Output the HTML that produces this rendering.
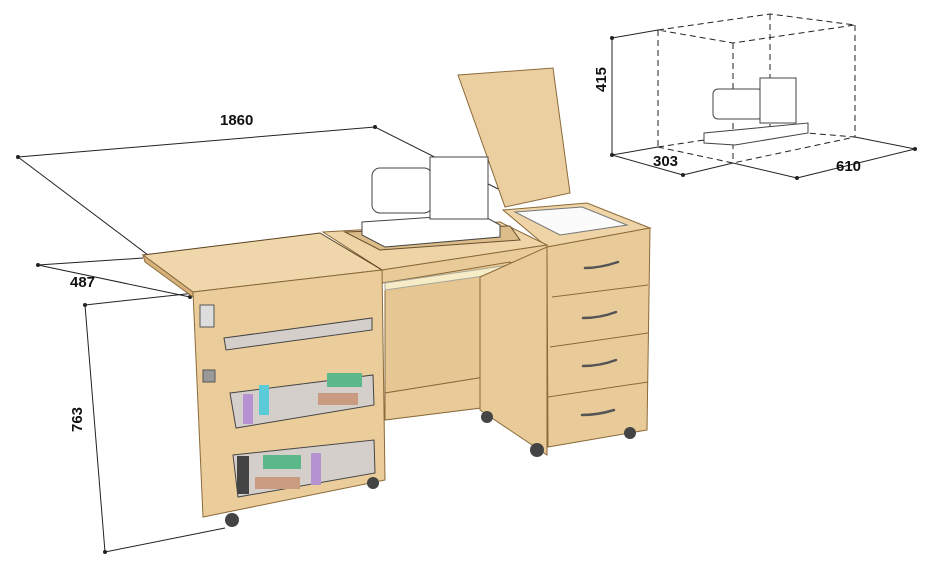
<!DOCTYPE html>
<html><head><style>
html,body{margin:0;padding:0;background:#fff;}
svg{display:block;}
text{font-family:"Liberation Sans",sans-serif;font-weight:bold;font-size:15px;fill:#111;}
</style></head><body>
<svg width="934" height="582" viewBox="0 0 934 582" xmlns="http://www.w3.org/2000/svg">
<g stroke="#222" stroke-width="1" fill="none">
<line x1="18" y1="157" x2="375" y2="127"/>
<line x1="18" y1="157" x2="148" y2="255"/>
<line x1="375" y1="127" x2="520" y2="200"/>
<line x1="38" y1="265" x2="190" y2="297"/>
<line x1="38" y1="265" x2="143" y2="258"/>
<line x1="85" y1="305" x2="105" y2="552"/>
<line x1="85" y1="305" x2="195" y2="293"/>
<line x1="105" y1="552" x2="225" y2="528"/>
<line x1="612" y1="38" x2="612" y2="155"/>
<line x1="612" y1="38" x2="658" y2="30"/>
<line x1="612" y1="155" x2="683" y2="175"/>
<line x1="612" y1="155" x2="658" y2="147"/>
<line x1="683" y1="175" x2="733" y2="163"/>
<line x1="733" y1="163" x2="797" y2="178"/>
<line x1="797" y1="178" x2="915" y2="149"/>
<line x1="855" y1="137" x2="915" y2="149"/>
</g>
<g stroke="#222" stroke-width="1" fill="none" stroke-dasharray="6,4">
<polyline points="658,30 770,14 855,25 733,43 658,30"/>
<line x1="658" y1="30" x2="658" y2="147"/>
<line x1="733" y1="43" x2="733" y2="163"/>
<line x1="855" y1="25" x2="855" y2="137"/>
<line x1="770" y1="14" x2="770" y2="130"/>
<polyline points="658,147 733,163 855,137"/>
<line x1="658" y1="147" x2="770" y2="130"/>
<line x1="770" y1="130" x2="855" y2="137"/>
</g>
<g fill="#222">
<circle cx="18" cy="157" r="2"/><circle cx="375" cy="127" r="2"/><circle cx="38" cy="265" r="2"/><circle cx="190" cy="297" r="2"/>
<circle cx="85" cy="305" r="2"/><circle cx="105" cy="552" r="2"/><circle cx="612" cy="38" r="2"/><circle cx="612" cy="155" r="2"/>
<circle cx="683" cy="175" r="2"/><circle cx="797" cy="178" r="2"/><circle cx="915" cy="149" r="2"/>
</g>
<text x="220" y="125">1860</text>
<text x="70" y="287">487</text>
<text x="82" y="432" transform="rotate(-90 82 432)">763</text>
<text x="606" y="92" transform="rotate(-90 606 92)">415</text>
<text x="653" y="166">303</text>
<text x="836" y="171">610</text>
<g stroke="#444" stroke-width="1" fill="#fff">
<path d="M704,133 L808,123 L808,133 L735,145 L704,143 Z"/>
<rect x="713" y="89" width="50" height="30" rx="5"/>
<rect x="760" y="78" width="36" height="45"/>
</g>
<polygon points="458,75 553,68 570,193 505,207" fill="#ebcfa0" stroke="#8a6a3a"/>
<polygon points="503,210 587,203 650,228 547,247" fill="#eed4a6" stroke="#8a6a3a"/>
<polygon points="515,212 582,207 627,225 560,235" fill="#fbfbfb" stroke="#777"/>
<polygon points="547,247 650,228 647,430 548,447" fill="#e9cb99" stroke="#8a6a3a"/>
<g stroke="#8a6a3a"><line x1="552" y1="297" x2="648" y2="285"/><line x1="550" y1="347" x2="648" y2="333"/><line x1="548" y1="397" x2="648" y2="382"/></g>
<g stroke="#555" stroke-width="2.5" fill="none" stroke-linecap="round">
<path d="M585,268 Q600,268 618,262"/><path d="M583,318 Q600,318 616,312"/><path d="M583,366 Q600,366 616,360"/><path d="M582,415 Q598,415 614,410"/>
</g>
<polygon points="323,232 500,222 547,245 382,270" fill="#eed4a6" stroke="#8a6a3a"/>
<polygon points="345,232 510,226 520,240 380,250" fill="#dcbc88" stroke="#6a5030"/>
<polygon points="382,270 547,245 547,257 382,283" fill="#e9cb99" stroke="#8a6a3a"/>
<polygon points="385,283 510,262 510,373 385,393" fill="#e6c692" stroke="#8a6a3a"/>
<polygon points="385,283 510,265 505,273 385,290" fill="#f6ecc8" stroke="#aa9"/>
<polygon points="385,393 510,373 505,405 385,420" fill="#e9cb99" stroke="#8a6a3a"/>
<polygon points="480,277 547,247 547,455 480,410" fill="#e9cb99" stroke="#8a6a3a"/>
<polygon points="143,255 320,233 382,270 193,292" fill="#efd7ab" stroke="#5a4020"/>
<polygon points="143,255 193,292 193,297 145,262" fill="#d7b27c" stroke="#8a6a3a"/>
<polygon points="193,292 382,270 385,480 203,517" fill="#ebcd9c" stroke="#8a6a3a"/>
<g stroke="#444" fill="#cfd0d8" fill-opacity="0.8">
<polygon points="224,338 372,318 372,330 226,350"/>
<polygon points="230,393 373,375 374,405 236,428"/>
<polygon points="233,455 374,440 375,473 238,497"/>
</g>
<rect x="243" y="394" width="10" height="30" fill="#b493d0"/>
<rect x="259" y="385" width="10" height="30" fill="#5ccbd8"/>
<rect x="327" y="373" width="35" height="14" fill="#5cb888"/>
<rect x="318" y="393" width="40" height="12" fill="#c99b80"/>
<rect x="263" y="455" width="38" height="14" fill="#5cb888"/>
<rect x="255" y="477" width="45" height="12" fill="#c99b80"/>
<rect x="237" y="456" width="12" height="38" fill="#444"/>
<rect x="311" y="453" width="10" height="32" fill="#b493d0"/>
<rect x="203" y="370" width="12" height="12" fill="#999" stroke="#555"/>
<rect x="200" y="305" width="14" height="22" fill="#ddd" stroke="#555"/>
<g stroke="#444" fill="#fff">
<polygon points="362,222 480,214 500,225 500,237 385,247 362,235"/>
<rect x="372" y="168" width="60" height="45" rx="8"/>
<rect x="430" y="157" width="58" height="62"/>
</g>
<g fill="#444"><circle cx="232" cy="520" r="7"/><circle cx="373" cy="483" r="6"/><circle cx="487" cy="417" r="6"/><circle cx="537" cy="450" r="7"/><circle cx="630" cy="433" r="6"/></g>
</svg>
</body></html>
